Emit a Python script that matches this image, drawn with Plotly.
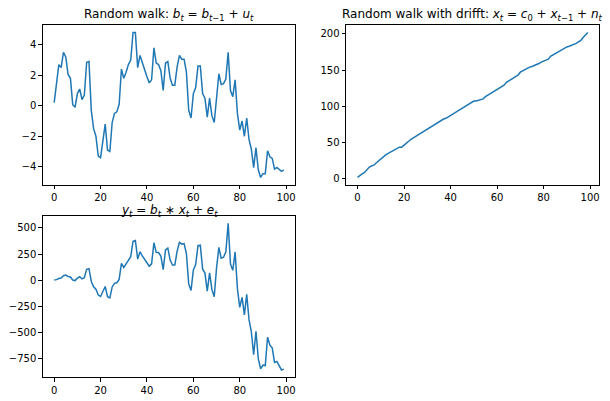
import plotly.graph_objects as go
from plotly.subplots import make_subplots

W, H = 610, 401

t = list(range(100))

# b_t : random walk
b = [0.2, 1.35, 2.7, 2.5, 3.5, 3.2, 2.05, 1.8, 0.07, -0.1,
     0.8, 1.1, 0.4, 0.7, 2.85, 2.9, -0.3, -1.5, -2.0, -3.3,
     -3.4, -2.3, -1.2, -2.9, -3.0, -1.1, -0.5, -0.4, 0.1, 2.4,
     1.8, 2.2, 2.7, 3.0, 4.8, 4.8, 2.5, 3.3, 2.8, 2.3,
     1.9, 1.5, 1.7, 3.8, 2.8, 2.7, 2.3, 1.0, 2.8, 2.9,
     1.8, 1.35, 1.35, 2.55, 3.3, 3.05, 3.05, 2.2, -0.3, -0.8,
     0.8, 1.2, 2.6, 2.6, 0.8, 0.5, -0.75, 0.5, -0.65, -1.1,
     0.8, 2.1, 1.4, 1.45, 1.75, 3.5, 1.0, 0.6, 1.7, -0.5,
     -1.6, -1.0, -2.0, -0.8, -2.2, -2.85, -4.05, -2.75, -4.2, -4.7,
     -4.45, -4.45, -2.95, -3.35, -3.45, -4.15, -4.05, -4.15, -4.3, -4.2]

# x_t : random walk with drift
xw = [1, 4, 6, 8, 12, 15, 17, 18, 21, 24,
      26, 29, 32, 34, 36, 38, 40, 42, 43, 43,
      46, 49, 52, 54, 56, 58, 61, 63, 65, 67,
      68, 71, 73, 75, 77, 79, 81, 82, 83, 85,
      87, 90, 92, 94, 95, 98, 100, 101, 103, 106,
      107, 107, 108, 109, 110, 113, 115, 116, 118, 121,
      123, 125, 127, 129, 133, 135, 137, 139, 140, 143,
      147, 149, 150, 152, 154, 155, 156, 158, 159, 161,
      162, 163, 165, 169, 171, 173, 175, 177, 178, 180,
      182, 183, 184, 185, 187, 189, 191, 195, 199, 202]

# y_t
y = [3, 6, 17, 21, 43, 49, 36, 31, 2, -3,
     20, 33, 13, 24, 104, 110, -12, -62, -86, -141,
     -155, -114, -60, -157, -168, -64, -30, -24, 8, 160,
     122, 156, 197, 225, 372, 380, 202, 271, 233, 196,
     165, 134, 157, 358, 266, 264, 230, 101, 289, 307,
     193, 145, 146, 277, 363, 345, 350, 255, -35, -97,
     98, 150, 330, 335, 106, 68, -103, 70, -90, -157,
     118, 313, 210, 220, 270, 543, 156, 95, 270, -80,
     -259, -163, -330, -135, -376, -493, -709, -487, -748, -846,
     -810, -814, -543, -620, -645, -784, -774, -809, -856, -848]

titles = [
    "Random walk: <i>b<sub>t</sub></i> = <i>b</i><sub><i>t</i>\u22121</sub> + <i>u<sub>t</sub></i>",
    "Random walk with drifft: <i>x<sub>t</sub></i> = <i>c</i><sub>0</sub> + <i>x</i><sub><i>t</i>\u22121</sub> + <i>n<sub>t</sub></i>",
    "<i>y<sub>t</sub></i> = <i>b<sub>t</sub></i> \u2217 <i>x<sub>t</sub></i> + <i>e<sub>t</sub></i>",
]

fig = make_subplots(rows=2, cols=2)

blue = "#1f77b4"
fig.add_trace(go.Scatter(x=t, y=b, mode="lines", line=dict(color=blue, width=1.5)), row=1, col=1)
fig.add_trace(go.Scatter(x=t, y=xw, mode="lines", line=dict(color=blue, width=1.5)), row=1, col=2)
fig.add_trace(go.Scatter(x=t, y=y, mode="lines", line=dict(color=blue, width=1.5)), row=2, col=1)

# axes boxes in pixels (left, right, top, bottom) and title offset from box top
boxes = {
    1: (42.7, 295.3, 25.3, 184.7, 0),
    2: (346.0, 599.3, 25.3, 184.7, 0),
    3: (42.7, 295.3, 216.0, 377.3, -5),
}


def pad(vals):
    lo, hi = min(vals), max(vals)
    m = (hi - lo) * 0.05
    return [lo - m, hi + m]


series = {1: b, 2: xw, 3: y}
yticks = {1: [-4, -2, 0, 2, 4], 2: [0, 50, 100, 150, 200], 3: [-750, -500, -250, 0, 250, 500]}

axis_style = dict(showline=True, linecolor="black", linewidth=0.8, mirror=True,
                  ticks="outside", ticklen=3.5, tickwidth=0.8, tickcolor="black",
                  showgrid=False, zeroline=False,
                  tickfont=dict(family="DejaVu Sans", size=10, color="black"))

for i, (l, r, tp, bt, off) in boxes.items():
    xa = "xaxis" if i == 1 else "xaxis%d" % i
    ya = "yaxis" if i == 1 else "yaxis%d" % i
    fig.layout[xa].update(domain=[l / W, r / W], range=pad(t), tickvals=[0, 20, 40, 60, 80, 100], **axis_style)
    fig.layout[ya].update(domain=[1 - bt / H, 1 - tp / H], range=pad(series[i]), tickvals=yticks[i], **axis_style)
    fig.add_annotation(text=titles[i - 1], xref="paper", yref="paper",
                       x=(l + r) / 2 / W, y=1 - (tp - off) / H, xanchor="center", yanchor="bottom",
                       showarrow=False, font=dict(family="DejaVu Sans", size=12, color="black"))

fig.update_layout(width=W, height=H, margin=dict(l=0, r=0, t=0, b=0),
                  showlegend=False, plot_bgcolor="white", paper_bgcolor="white")

# page body has a default margin; drop it so the figure fills the window
fig.write_html("out.html", config={"displayModeBar": False},
               post_script="document.body.style.margin='0';document.body.style.overflow='hidden';")
